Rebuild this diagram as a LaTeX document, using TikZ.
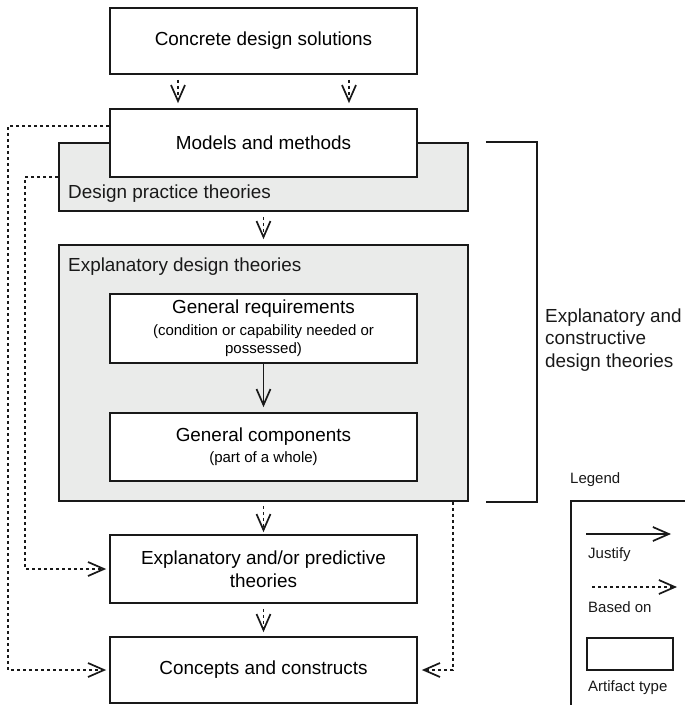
\documentclass[tikz,border=0pt]{standalone}
\usepackage{fontspec}
\setmainfont{Liberation Sans}
\usetikzlibrary{arrows.meta}
\newcommand\bigf{\fontsize{18.9}{22.7}\selectfont}
\newcommand\smallf{\fontsize{15}{18}\selectfont}
\definecolor{boxgray}{RGB}{234,235,234}
\definecolor{ink}{RGB}{25,25,25}
\tikzset{
  box/.style={draw=ink, line width=1.7pt, fill=white, minimum width=307pt, inner sep=0pt, align=center, font=\bigf},
  graybox/.style={draw=ink, line width=1.7pt, fill=boxgray, minimum width=409pt, inner sep=0pt},
  lbl/.style={anchor=west, inner sep=0pt, font=\bigf, text=ink},
  lgd/.style={anchor=west, inner sep=0pt, font=\smallf, text=ink},
  tip/.style={-{Straight Barb[length=16pt,width=14pt,line width=1.7pt]}},
  based/.style={tip, draw=ink, line width=1.6pt, dash pattern=on 3pt off 3pt},
  justify/.style={tip, draw=ink, line width=1.6pt},
}
\begin{document}
\begin{tikzpicture}[x=1pt,y=-1pt]
\useasboundingbox (0,0) rectangle (685,705);
% gray containers
\node[graybox, minimum height=68pt] (dpt) at (263.5,177) {};
\node[graybox, minimum height=256pt] (edt) at (263.5,373) {};
\node[lbl] (dptl) at (68,194) {Design practice theories};
\node[lbl] (edtl) at (68,267) {Explanatory design theories};
% boxes
\node[box, minimum height=66pt] (cds) at (263.5,41) {Concrete design solutions};
\node[box, minimum height=68pt] (mm) at (263.5,143) {Models and methods};
\node[box, minimum height=69pt] (greq) at (263.5,328.5) {General requirements\\[-1pt]{\smallf (condition or capability needed or}\\[-4pt]{\smallf possessed)}};
\node[box, minimum height=68pt] (gcomp) at (263.5,447) {General components\\[-2pt]{\smallf (part of a whole)}};
\node[box, minimum height=68pt] (ept) at (263.5,569) {Explanatory and/or predictive\\theories};
\node[box, minimum height=66pt] (cc) at (263.5,670) {Concepts and constructs};
% connectors
\draw[based, shorten <=5pt, shorten >=5pt] ([xshift=-85.5pt]cds.south) -- ([xshift=-85.5pt]mm.north);
\draw[based, shorten <=5pt, shorten >=5pt] ([xshift=85.5pt]cds.south) -- ([xshift=85.5pt]mm.north);
\draw[based, shorten <=5pt, shorten >=5pt] (dpt.south) -- (edt.north);
\draw[justify, shorten >=5pt] (greq.south) -- (gcomp.north);
\draw[based, shorten <=4pt, shorten >=2pt] (edt.south) -- (ept.north);
\draw[based, shorten <=5pt, shorten >=4pt] (ept.south) -- (cc.north);
\draw[based, shorten >=3pt] ([yshift=17pt]mm.west) -- ++(-101,0) |- (cc.west);
\draw[based, shorten >=3pt] (dpt.west) -- ++(-33,0) |- (ept.west);
\draw[based, shorten >=4pt] ([xshift=-16pt]edt.south east) |- (cc.east);
% bracket
\draw[draw=ink, line width=1.7pt] ([xshift=17pt]dpt.north east) -- ++(51,0) |- ([xshift=17pt]edt.south east);
\node[lbl, align=left] (edc) at (545,340) {Explanatory and\\constructive\\design theories};
% legend
\node[lgd] (lg) at (570,480) {Legend};
\draw[draw=ink, line width=1.7pt] (686,501) -- (571,501) -- (571,706);
\coordinate (j1) at (586,534);
\coordinate (j2) at (671,534);
\draw[justify] (j1) -- (j2);
\node[lgd] (jl) at (588,555) {Justify};
\coordinate (b1) at (592,587);
\coordinate (b2) at (677,587);
\draw[based] (b1) -- (b2);
\node[lgd] (bl) at (588,607) {Based on};
\node[draw=ink, line width=1.7pt, minimum width=86pt, minimum height=32pt, inner sep=0pt] (art) at (630,654) {};
\node[lgd] (al) at (588,688) {Artifact type};
\end{tikzpicture}
\end{document}
